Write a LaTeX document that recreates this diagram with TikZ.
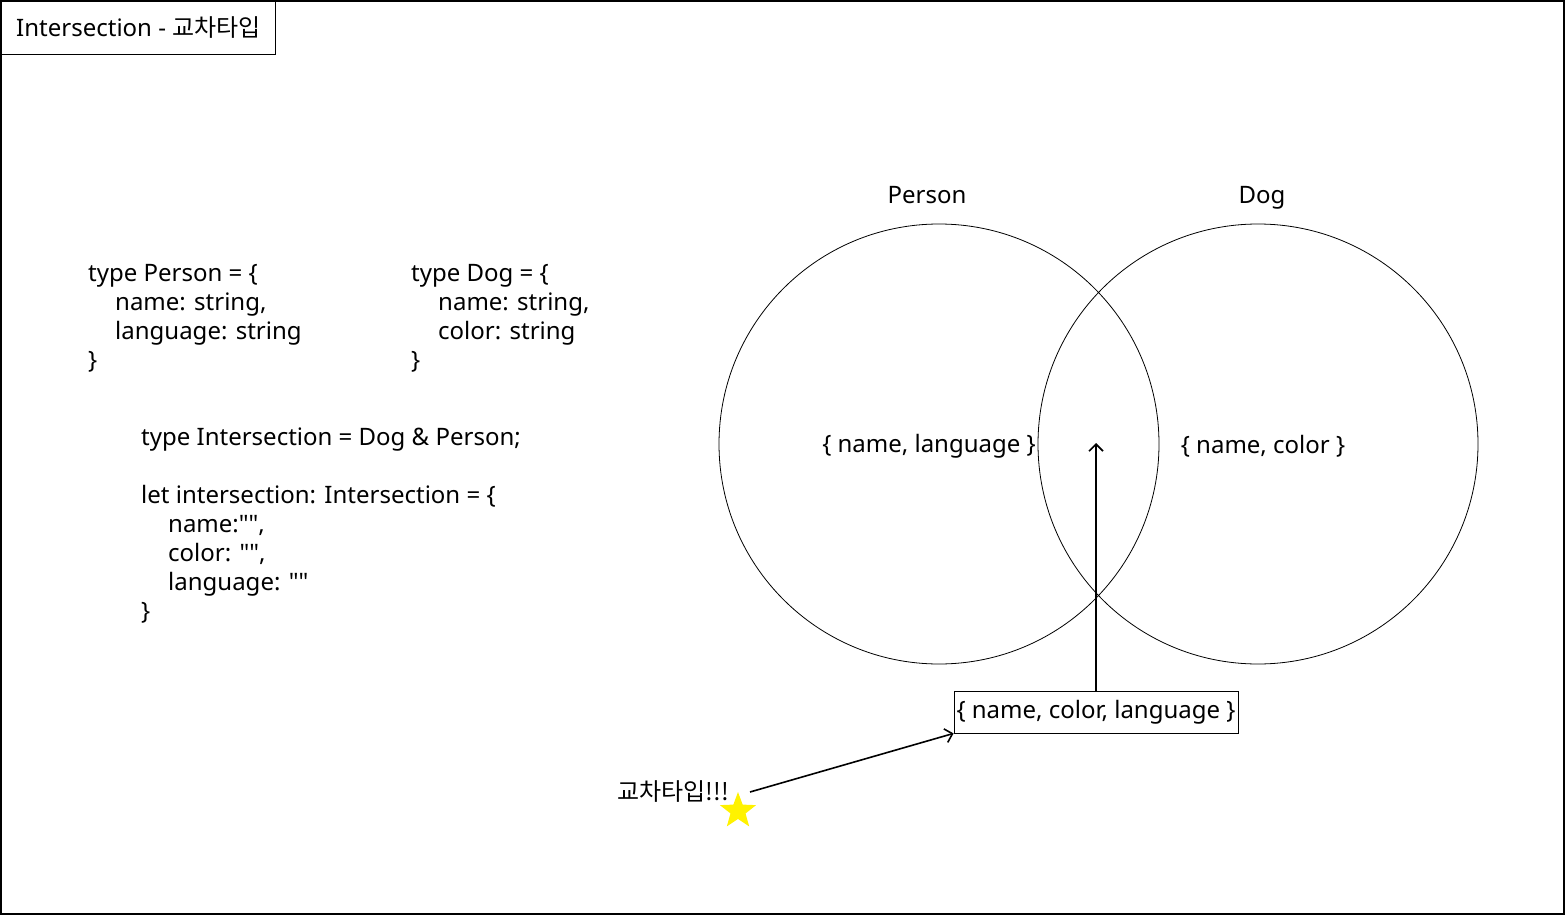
\documentclass[tikz,border=0pt]{standalone}
\usepackage{fontspec}
\setmainfont{Noto Sans}[Ligatures=TeXOff]
\newfontfamily\krfont{Noto Sans CJK KR}
\usetikzlibrary{positioning, arrows.meta, shapes.geometric}

\newcommand{\ind}{\hspace*{27pt}}

\begin{document}
\begin{tikzpicture}[x=1pt, y=-1pt, font=\fontsize{24}{29}\selectfont,
    codeblock/.style={align=left, inner sep=0pt, anchor=north west},
    setcircle/.style={circle, draw, line width=0.8pt, minimum size=440pt, inner sep=0pt},
    boxed/.style={rectangle, draw, line width=0.8pt, inner sep=0pt},
    link/.style={line width=1.6pt, -{Straight Barb[length=7pt, width=14pt]}}]
    \useasboundingbox (0,0) rectangle (1565,915);
    \draw [line width=1.3pt] (1,1) rectangle (1564,914);

    % title
    \node (title) [boxed, minimum width=274pt, minimum height=53pt, anchor=north west] at (1,1) {Intersection - {\krfont 교차타입}};

    % code
    \node (persontype) [codeblock] at (88,264) {type Person = \{\\ \ind name: string,\\ \ind language: string\\ \}};
    \node (dogtype) [codeblock] at (411,264) {type Dog = \{\\ \ind name: string,\\ \ind color: string\\ \}};
    \node (intertype) [codeblock] at (141,428) {type Intersection = Dog \& Person;\\[29pt] let intersection: Intersection = \{\\ \ind name:"",\\ \ind color: "",\\ \ind language: ""\\ \}};

    % venn
    \node (person) [setcircle] at (939,444) {};
    \node (dog) [setcircle] at (1258,444) {};
    \node (personlbl) [anchor=base] at (927,203) {Person};
    \node (doglbl) [anchor=base] at (1262,203) {Dog};
    \node (pset) at (929,446) {\{ name, language \}};
    \node (dset) at (1263,446) {\{ name, color \}};
    \coordinate (mid) at (1096,443);

    \node (both) [boxed, minimum width=284pt, minimum height=42pt] at (1096,712) {\{ name, color, language \}};
    \draw [link] (both.north) -- (mid);

    % note
    \node (star) [star, star points=5, star point ratio=2.4, fill=yellow, minimum size=38pt, inner sep=0pt] at (738,811) {};
    \node (note) [anchor=east, inner sep=0pt] at (729,792) {\krfont 교차타입!!!};
    \coordinate (notestart) at (750,792);
    \draw [link] (notestart) -- (both.south west);
\end{tikzpicture}
\end{document}
